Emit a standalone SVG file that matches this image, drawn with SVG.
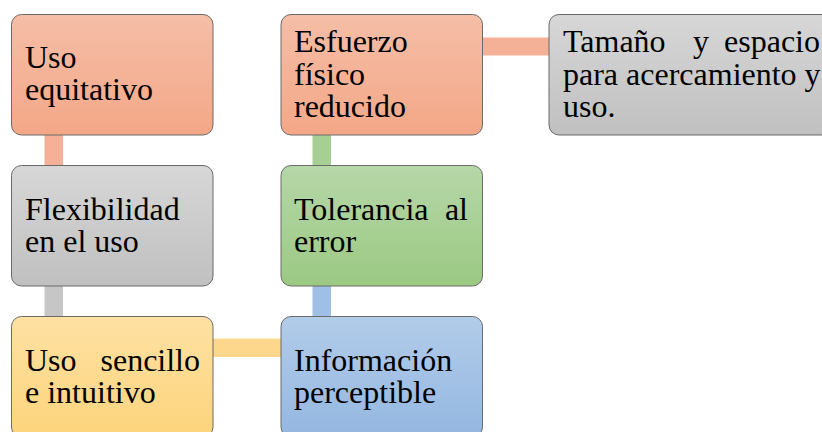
<svg xmlns="http://www.w3.org/2000/svg" width="822" height="432" viewBox="0 0 822 432">
<style>
.box{stroke:#6a6a6a;stroke-width:1}
.t{font-family:"Liberation Serif","Times New Roman",serif;font-size:32px;fill:#000}
</style>
<defs>
<linearGradient id="gS" x1="0" y1="0" x2="0" y2="1"><stop offset="0" stop-color="#f5bea7"/><stop offset="1" stop-color="#f4a787"/></linearGradient>
<linearGradient id="gG" x1="0" y1="0" x2="0" y2="1"><stop offset="0" stop-color="#d7d7d7"/><stop offset="1" stop-color="#c0c0c0"/></linearGradient>
<linearGradient id="gY" x1="0" y1="0" x2="0" y2="1"><stop offset="0" stop-color="#fee1a3"/><stop offset="1" stop-color="#fdd47c"/></linearGradient>
<linearGradient id="gGr" x1="0" y1="0" x2="0" y2="1"><stop offset="0" stop-color="#b6d7a8"/><stop offset="1" stop-color="#9bc983"/></linearGradient>
<linearGradient id="gB" x1="0" y1="0" x2="0" y2="1"><stop offset="0" stop-color="#b2cce9"/><stop offset="1" stop-color="#94b7e1"/></linearGradient>
</defs>
<g id="connectors">
<rect x="44.5" y="134" width="18.5" height="33" fill="#f4b198"/>
<rect x="44.5" y="285" width="18.5" height="33" fill="#c6c6c6"/>
<rect x="212" y="338.5" width="70" height="18.5" fill="#fdd88c"/>
<rect x="312.5" y="134" width="18.5" height="33" fill="#a7cf93"/>
<rect x="312.5" y="285" width="18.5" height="33" fill="#9fbfe4"/>
<rect x="481" y="37.5" width="69" height="18" fill="#f4b198"/>
</g>
<g id="n1">
<rect class="box" x="11.5" y="14.5" width="201.5" height="120.5" rx="10" fill="url(#gS)"/>
<text class="t" x="25" y="68">Uso</text>
<text class="t" x="25" y="100">equitativo</text>
</g>
<g id="n2">
<rect class="box" x="11.5" y="165.5" width="201.5" height="120.5" rx="10" fill="url(#gG)"/>
<text class="t" x="25" y="220">Flexibilidad</text>
<text class="t" x="25" y="252">en el uso</text>
</g>
<g id="n3">
<rect class="box" x="11.5" y="316.5" width="201.5" height="120.5" rx="10" fill="url(#gY)"/>
<text class="t" x="25" y="371">Uso</text>
<text class="t" x="200" y="371" text-anchor="end">sencillo</text>
<text class="t" x="25" y="403">e intuitivo</text>
</g>
<g id="n4">
<rect class="box" x="281" y="316.5" width="201.5" height="120.5" rx="10" fill="url(#gB)"/>
<text class="t" x="294" y="371">Información</text>
<text class="t" x="294" y="403">perceptible</text>
</g>
<g id="n5">
<rect class="box" x="281" y="165.5" width="201.5" height="120.5" rx="10" fill="url(#gGr)"/>
<text class="t" x="294" y="220">Tolerancia</text>
<text class="t" x="468" y="220" text-anchor="end">al</text>
<text class="t" x="294" y="252">error</text>
</g>
<g id="n6">
<rect class="box" x="281" y="14.5" width="201.5" height="120.5" rx="10" fill="url(#gS)"/>
<text class="t" x="294" y="52">Esfuerzo</text>
<text class="t" x="294" y="84.5">físico</text>
<text class="t" x="294" y="117">reducido</text>
</g>
<g id="n7">
<rect class="box" x="549" y="14.5" width="300" height="120.5" rx="10" fill="url(#gG)"/>
<text class="t" x="563" y="52">Tamaño</text>
<text class="t" x="701" y="52" text-anchor="middle">y</text>
<text class="t" x="820" y="52" text-anchor="end">espacio</text>
<text class="t" x="563" y="84.5">para acercamiento y</text>
<text class="t" x="563" y="117">uso.</text>
</g>
</svg>
